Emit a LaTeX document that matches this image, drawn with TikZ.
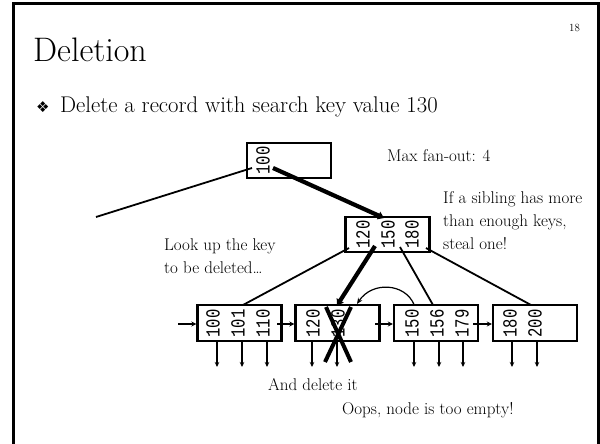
\documentclass[tikz,border=0pt]{standalone}
\usepackage{fontspec}
\usepackage{graphicx}
\usetikzlibrary{arrows.meta}
\newfontfamily\keyfont{Liberation Mono}
\newfontfamily\symfont{DejaVu Sans}
\newcommand\keytext[1]{\scalebox{0.78}[1]{#1}}

\begin{document}
\begin{tikzpicture}[x=1pt,y=-1pt,
  box/.style={draw, line width=2.4pt, inner sep=0pt, minimum width=84pt, minimum height=35pt},
  key/.style={rotate=90, inner sep=0pt, font=\keyfont\fontsize{20}{20}\selectfont},
  lbl/.style={anchor=base west, inner sep=0pt, align=left, font=\fontsize{17}{23}\selectfont},
  link/.style={line width=1.8pt},
  heavy/.style={line width=4.2pt, -{Triangle[length=6pt,width=8pt]}},
  ptr/.style={line width=1.6pt, -{Stealth[length=5pt,width=4.5pt]}},
  chain/.style={line width=1.8pt, -{Stealth[length=5pt,width=5pt]}},
  steal/.style={line width=1.2pt, -{Stealth[length=6pt,width=5pt]}},
  cross/.style={line width=4pt},
]
\useasboundingbox (0,0) rectangle (600,444);
\fill[white] (0,0) rectangle (600,444);

% slide frame
\draw[line width=3pt] (13,450) -- (13,3.5) -- (598.5,3.5) -- (598.5,450);

% headings
\node[anchor=base west, inner sep=0pt, font=\fontsize{34}{34}\selectfont] (title) at (33,62) {Deletion};
\node[anchor=base west, inner sep=0pt, font=\fontsize{11}{11}\selectfont] (pageno) at (569,32) {18};
\node[anchor=base west, inner sep=0pt, font=\symfont\fontsize{15}{15}\selectfont] (bullet) at (36,112) {❖};
\node[anchor=base west, inner sep=0pt, font=\fontsize{22.7}{22.7}\selectfont] (point) at (60,113) {Delete a record with search key value 130};

% tree nodes
\node[box] (root)  at (289,160.5) {};
\node[box] (inner) at (387.5,234.5) {};
\node[box, minimum height=36pt] (leaf1) at (239.5,323) {};
\node[box, minimum height=36pt] (leaf2) at (337.5,323) {};
\node[box, minimum height=36pt] (leaf3) at (436,323) {};
\node[box, minimum height=36pt] (leaf4) at (535,323) {};

% keys
\node[key] (r1) at (263,160.5) {\keytext{100}};
\node[key] (i1) at (363,234.5) {\keytext{120}};
\node[key] (i2) at (388,234.5) {\keytext{150}};
\node[key] (i3) at (412,234.5) {\keytext{180}};
\node[key] (a1) at (213,323.5) {\keytext{100}};
\node[key] (a2) at (238,323.5) {\keytext{101}};
\node[key] (a3) at (263,323.5) {\keytext{110}};
\node[key] (b1) at (313,323.5) {\keytext{120}};
\node[key] (b2) at (338,323.5) {\keytext{130}};
\node[key] (c1) at (412,323.5) {\keytext{150}};
\node[key] (c2) at (437,323.5) {\keytext{156}};
\node[key] (c3) at (462,323.5) {\keytext{179}};
\node[key] (d1) at (510,323.5) {\keytext{180}};
\node[key] (d2) at (535,323.5) {\keytext{200}};

% pointer slots
\coordinate (rL) at (252,168);
\coordinate (rR) at (273,168);
\coordinate (rEnd) at (96,217);
\coordinate (iTop) at (384,218);
\coordinate (s1) at (349,248);
\coordinate (s2) at (375,246);
\coordinate (s3) at (400,247);
\coordinate (s4) at (426,248);
\coordinate (t1) at (243,305);
\coordinate (t2) at (337,305.5);
\coordinate (t3) at (433,305);
\coordinate (t4) at (531,305);

% root to children
\draw[link] (rL) -- (rEnd);
\draw[heavy] (rR) -- (iTop);

% inner node to leaves
\draw[link] (s1) -- (t1);
\draw[heavy] (s2) -- (t2);
\draw[link] (s3) -- (t3);
\draw[link] (s4) -- (t4);

% record pointers below the leaves
\foreach \n/\px in {pa/217,pb/242,pc/267,pd/312,pe/337,pf/414,pg/439,ph/463,pi/512,pj/537}{
  \coordinate (\n top) at (\px,341);
  \coordinate (\n end) at (\px,367);
  \draw[ptr] (\n top) -- (\n end);
}

% sibling chain
\coordinate (h0) at (178,324);
\coordinate (h1) at (277,324);
\coordinate (h2) at (375,324);
\coordinate (h3) at (473,324);
\draw[chain] (h0) -- (leaf1.west |- h0);
\draw[chain] (h1) -- (leaf2.west |- h1);
\draw[chain] (h2) -- (leaf3.west |- h2);
\draw[chain] (h3) -- (leaf4.west |- h3);

% borrowing a key from the right sibling
\coordinate (cu1) at (414,304.5);
\coordinate (cu2) at (357,304);
\draw[steal] (cu1) .. controls (405,283) and (372,281) .. (cu2);

% deleted key
\coordinate (x1) at (326,307);
\coordinate (x2) at (351,362);
\coordinate (x3) at (351,307);
\coordinate (x4) at (325,362);
\draw[cross] (x1) -- (x2);
\draw[cross] (x3) -- (x4);

% annotations (base = last line's baseline)
\node[lbl] (fanout) at (387,161) {Max fan-out: 4};
\node[lbl] (sibling) at (443,249) {If a sibling has more\\than enough keys,\\steal one!};
\node[lbl] (lookup) at (164,273) {Look up the key\\to be deleted\dots};
\node[lbl] (delete) at (268,390) {And delete it};
\node[lbl] (oops) at (342,414) {Oops, node is too empty!};
\end{tikzpicture}
\end{document}
